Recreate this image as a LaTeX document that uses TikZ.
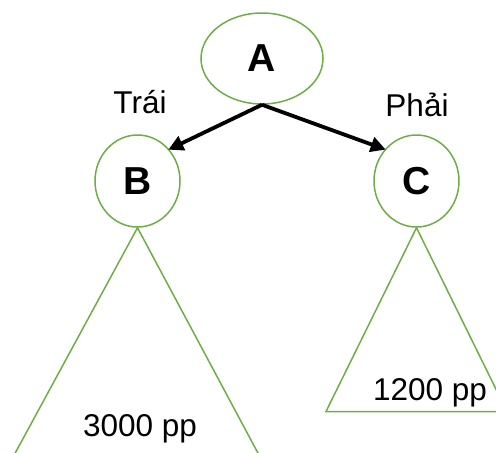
\documentclass[tikz,border=0pt]{standalone}
\usepackage{fontspec}
\setmainfont{Liberation Sans}
\usetikzlibrary{shapes.geometric,arrows.meta}
\definecolor{leaf}{HTML}{70AD47}
\tikzset{
  treenode/.style={draw=leaf, line width=1.5pt, ellipse, inner sep=0pt,
    font=\fontsize{39}{42}\selectfont\bfseries},
  subtree/.style={draw=leaf, line width=1.5pt, line join=miter},
  link/.style={line width=3.8pt, -{Triangle[length=15pt,width=15pt]}, shorten >=-1pt},
  caption/.style={font=\fontsize{31.5}{36}\selectfont, inner sep=0pt, anchor=base}
}
\begin{document}
\begin{tikzpicture}[x=1pt,y=-1pt]
  \useasboundingbox (0,0) rectangle (496,453);
  \clip (0,0) rectangle (496,453);

  % tree nodes
  \node[treenode, minimum width=122pt, minimum height=91pt] (A) at (262,58.5) {A};
  \node[treenode, minimum width=85pt, minimum height=92pt] (B) at (137.5,181) {B};
  \node[treenode, minimum width=85pt, minimum height=92pt] (C) at (416.5,181) {C};

  % subtrees hanging below B and C
  \coordinate (BL) at (6,470);
  \coordinate (BR) at (267,470);
  \coordinate (CL) at (326,411.5);
  \coordinate (CR) at (507,411.5);
  \draw[subtree] (B.south) -- (BL) -- (BR) -- cycle;
  \draw[subtree] (C.south) -- (CL) -- (CR) -- cycle;

  % edges from the root
  \draw[link] (A.south) -- (B.45);
  \draw[link] (A.south) -- (C.135);

  % labels
  \node[caption] (tl) at (140,113) {Trái};
  \node[caption] (pl) at (417,116) {Phải};
  \node[caption] (lc) at (140,436) {3000 pp};
  \node[caption] (rc) at (430,400) {1200 pp};
\end{tikzpicture}
\end{document}
